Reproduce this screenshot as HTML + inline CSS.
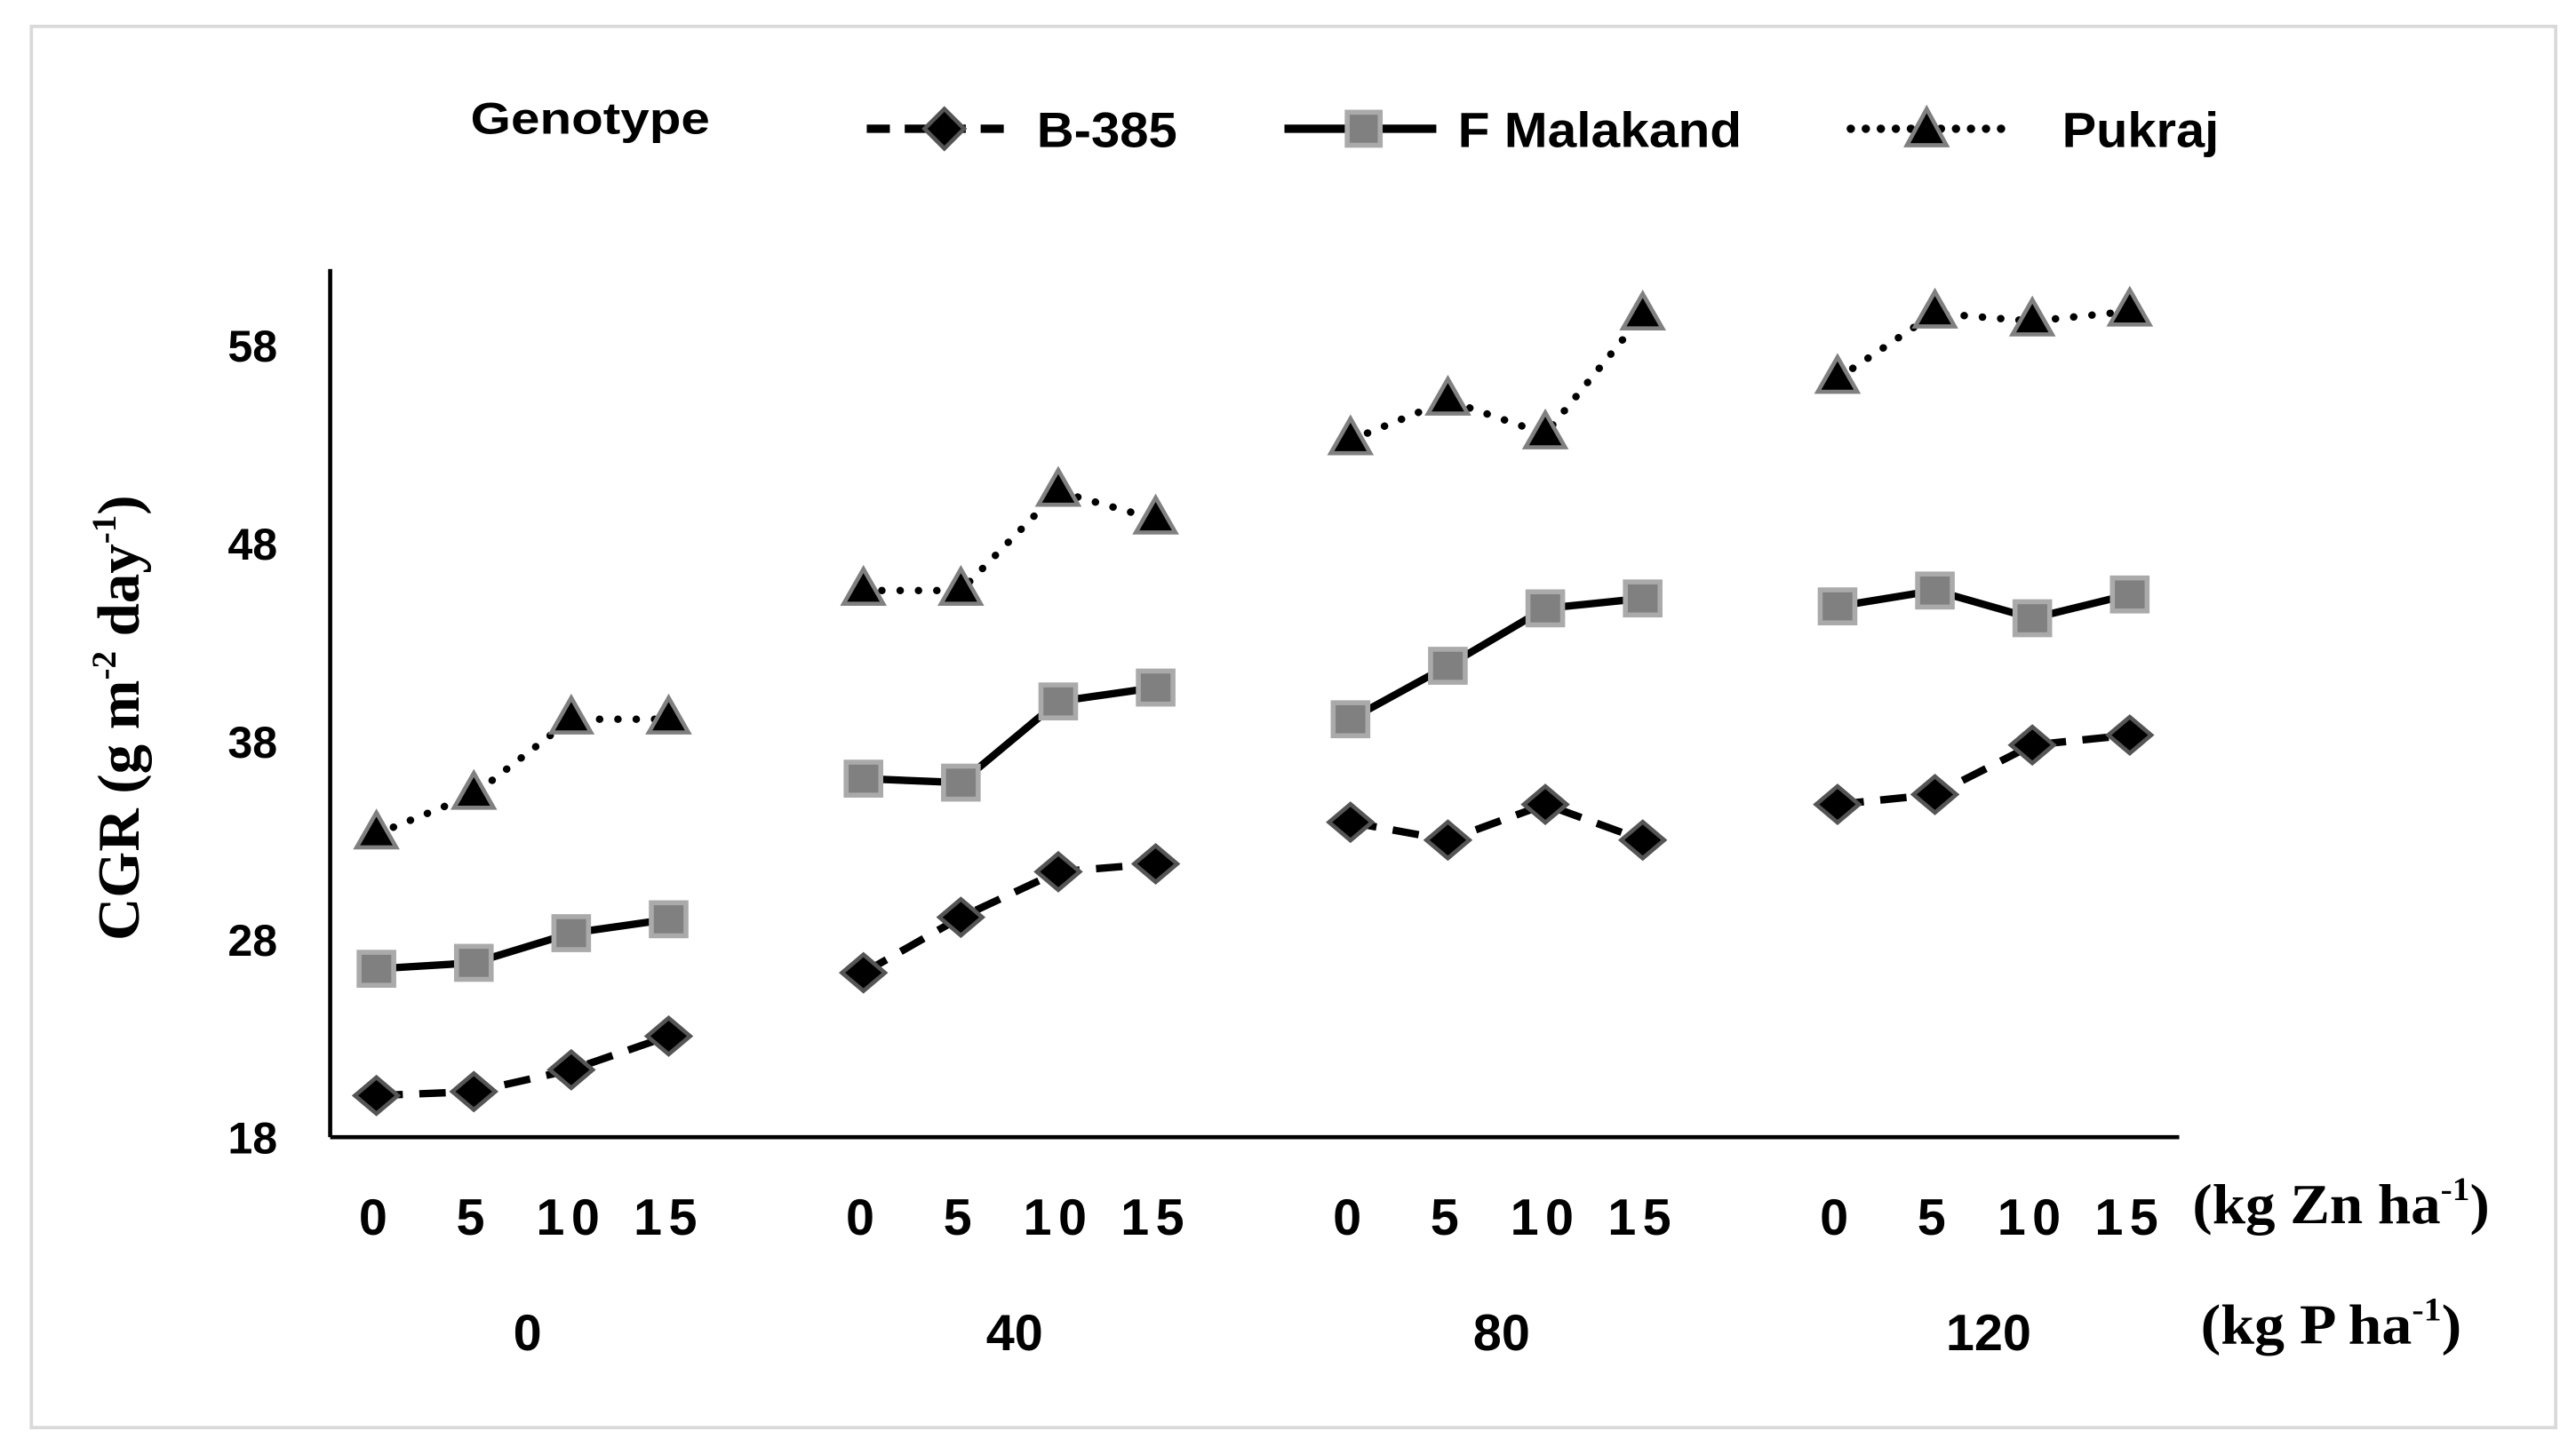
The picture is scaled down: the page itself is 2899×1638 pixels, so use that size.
<!DOCTYPE html>
<html><head><meta charset="utf-8"><style>
html,body{margin:0;padding:0;background:#fff}
svg{display:block}
.s{font-family:"Liberation Sans",sans-serif;font-weight:bold}
.r{font-family:"Liberation Serif",serif;font-weight:bold}
</style></head><body>
<svg id="chart" width="2899" height="1638" viewBox="0 0 1560.3 881.6" preserveAspectRatio="none" xmlns="http://www.w3.org/2000/svg">
<rect x="19" y="16" width="1529" height="849" fill="#fff" stroke="#d9d9d9" stroke-width="2"/>
<g>
<text class="s" x="285" y="81" font-size="27" textLength="145" lengthAdjust="spacingAndGlyphs">Genotype</text>
<g>
<line x1="525" y1="78" x2="615" y2="78" stroke="#000" stroke-width="5" stroke-dasharray="14,9"/>
<polygon points="572,66 584,78 572,90 560,78" fill="#000" stroke="#555" stroke-width="2.5"/>
<text class="s" x="628" y="89" font-size="30" textLength="85" lengthAdjust="spacingAndGlyphs">B-385</text></g>
<g>
<line x1="778" y1="78" x2="870" y2="78" stroke="#000" stroke-width="5"/>
<rect x="816" y="68" width="20" height="20" fill="#808080" stroke="#aaa" stroke-width="3"/>
<text class="s" x="883" y="89" font-size="30" textLength="172" lengthAdjust="spacingAndGlyphs">F Malakand</text></g>
<g>
<line x1="1121" y1="78" x2="1215" y2="78" stroke="#000" stroke-width="5" stroke-dasharray="0.1,9" stroke-linecap="round"/>
<polygon points="1167,66 1179,88 1155,88" fill="#000" stroke="#808080" stroke-width="2.5"/>
<text class="s" x="1249" y="89" font-size="30" textLength="95" lengthAdjust="spacingAndGlyphs">Pukraj</text></g>
</g>
<text class="r" font-size="36" transform="translate(84,435) rotate(-90)" text-anchor="middle">CGR (g m<tspan font-size="21" dy="-14">-2</tspan><tspan dy="14"> day</tspan><tspan font-size="21" dy="-14">-1</tspan><tspan dy="14">)</tspan></text>
<g id="axes"></g>
<g id="marks"></g>
<text class="r" x="1328" y="741" font-size="34" textLength="180" lengthAdjust="spacingAndGlyphs">(kg Zn ha<tspan font-size="20" dy="-14">-1</tspan><tspan dy="14">)</tspan></text>
<text class="r" x="1333" y="814" font-size="34" textLength="158" lengthAdjust="spacingAndGlyphs">(kg P ha<tspan font-size="20" dy="-14">-1</tspan><tspan dy="14">)</tspan></text>
</svg>
<script>
const znLabels=["0","5","10","15"];
const pLabels=["0","40","80","120"];
const yTicks=[18,28,38,48,58];
const b385=[20.1,20.3,21.4,23.1,26.3,29.1,31.4,31.8,33.9,33.0,34.8,33.0,34.8,35.3,37.8,38.3];
const fMalakand=[26.5,26.8,28.3,29.0,36.1,35.9,40.0,40.7,39.1,41.8,44.7,45.2,44.8,45.6,44.2,45.4];
const pukraj=[33.3,35.3,39.1,39.1,45.6,45.6,50.6,49.2,53.2,55.2,53.5,59.5,56.3,59.6,59.2,59.7];

const NS="http://www.w3.org/2000/svg";
const X0=200,X1=1320,YB=689,YT=163,slot=59;
function xPos(i){return X0+slot*(i+Math.floor(i/4))+slot/2-1.5;}
function yPos(v){return YB-(v-18)*12;}
function mk(tag,attrs,parent){const e=document.createElementNS(NS,tag);for(const k in attrs)e.setAttribute(k,attrs[k]);parent.appendChild(e);return e;}
const axes=document.getElementById('axes'),marks=document.getElementById('marks');
let e=mk('line',{x1:X0,y1:YT,x2:X0,y2:YB,stroke:'#000','stroke-width':2.5},axes);


e=mk('line',{x1:X0,y1:YB,x2:X1,y2:YB,stroke:'#000','stroke-width':2.5},axes);


yTicks.forEach(t=>{const tx=mk('text',{x:168,y:yPos(t)+10,'text-anchor':'end','font-size':27,class:'s'},axes);tx.textContent=t;

});
for(let i=0;i<16;i++){const tx=mk('text',{x:xPos(i),y:748,'text-anchor':'middle','font-size':31,class:'s','letter-spacing':'4'},axes);tx.textContent=znLabels[i%4];

}
pLabels.forEach((p,g)=>{const cx=(xPos(g*4)+xPos(g*4+3))/2+3;const tx=mk('text',{x:cx,y:818,'text-anchor':'middle','font-size':31,class:'s'},axes);tx.textContent=p;

});
function series(vals,name,lineAttrs,marker){
  const g=mk('g',{},marks);
  
  
  for(let grp=0;grp<4;grp++){const pts=[];for(let j=0;j<4;j++){const i=grp*4+j;pts.push(xPos(i)+','+yPos(vals[i]));}
    const pl=mk('polyline',Object.assign({points:pts.join(' '),fill:'none',stroke:'#000','stroke-width':4.5},lineAttrs),g);
    
    }
  vals.forEach((v,i)=>{const m=marker(xPos(i),yPos(v),g);
    
    });
}
series(b385,'b385',{'stroke-dasharray':'16,10'},(x,y,g)=>mk('polygon',{points:`${x},${y-11} ${x+13},${y} ${x},${y+11} ${x-13},${y}`,fill:'#000',stroke:'#555','stroke-width':2.5},g));
series(fMalakand,'f-malakand',{},(x,y,g)=>mk('rect',{x:x-10.5,y:y-10,width:21,height:20,fill:'#808080',stroke:'#aaa','stroke-width':3},g));
series(pukraj,'pukraj',{'stroke-dasharray':'0.1,11','stroke-linecap':'round'},(x,y,g)=>mk('polygon',{points:`${x},${y-13} ${x+12},${y+8} ${x-12},${y+8}`,fill:'#000',stroke:'#808080','stroke-width':2.5},g));
</script>
</body></html>
